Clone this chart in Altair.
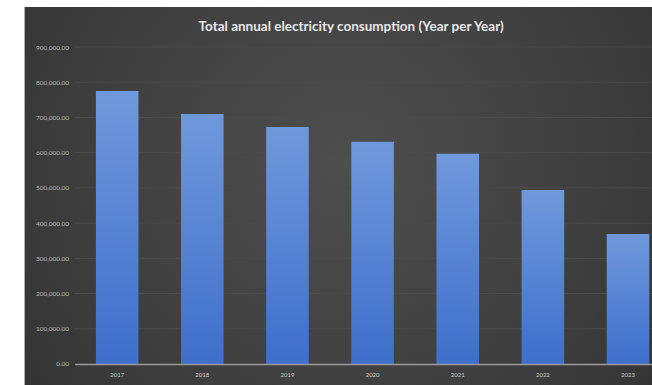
import altair as alt
import pandas as pd

title_text = "Total annual electricity consumption (Year per Year)"
years = ["2017", "2018", "2019", "2020", "2021", "2022", "2023"]
consumption = [775000, 710000, 673000, 631000, 597000, 494000, 369000]
grid_values = [100000, 200000, 300000, 400000, 500000, 600000, 700000, 800000, 900000]

df = pd.DataFrame({"year": years, "value": consumption})
gdf = pd.DataFrame({"v": grid_values})

W, H = 577, 317

y_axis = alt.Axis(values=[0] + grid_values, format=",.2f", grid=False,
                  labelFontSize=6.5, labelColor="#bdbdbd", domain=False,
                  ticks=False, labelPadding=6, zindex=1, labelOverlap=False)
y_scale = alt.Scale(domain=[0, 900000])

bg = alt.Chart(pd.DataFrame({"a": [0]})).mark_rect(
    color=alt.RadialGradient(
        gradient="radial",
        x1=0.5, y1=0.45, r1=0.0,
        x2=0.5, y2=0.45, r2=0.75,
        stops=[
            alt.GradientStop(color="#4e4e4e", offset=0),
            alt.GradientStop(color="#3c3c3c", offset=0.6),
            alt.GradientStop(color="#2c2c2c", offset=1),
        ],
    )
).encode(
    x=alt.value(-50), x2=alt.value(W + 10),
    y=alt.value(-40), y2=alt.value(H + 21),
)

title = alt.Chart(pd.DataFrame({"t": [title_text]})).mark_text(
    color="#e6e6e6", font="Lato", fontSize=13.5, fontWeight="bold",
    align="center", baseline="middle",
).encode(text="t:N", x=alt.value(W / 2 - 12), y=alt.value(-20))

grid = alt.Chart(gdf).mark_rule(color="#4c4c4c", strokeWidth=1).encode(
    y=alt.Y("v:Q", scale=y_scale, axis=y_axis, title=None),
)

bars = alt.Chart(df).mark_bar(
    color=alt.LinearGradient(
        gradient="linear", x1=0, y1=0, x2=0, y2=1,
        stops=[
            alt.GradientStop(color="#7098dc", offset=0),
            alt.GradientStop(color="#3d6fcb", offset=1),
        ],
    )
).encode(
    x=alt.X("year:N", sort=years, title=None,
            scale=alt.Scale(range=[0, 596], paddingInner=0.5, paddingOuter=0.25),
            axis=alt.Axis(labelFontSize=6, labelColor="#cfcfcf", labelAngle=0,
                          domain=True, domainColor="#9a9a9a", domainWidth=1.5,
                          ticks=False, labelPadding=8, zindex=1, labelOverlap=False)),
    y=alt.Y("value:Q", title=None, scale=y_scale, axis=y_axis),
)

chart = alt.layer(bg, grid, bars, title).properties(
    width=W, height=H,
    autosize=alt.AutoSizeParams(type="none"),
    padding={"left": 74.6, "top": 47, "right": 0, "bottom": 21},
    background="white",
).configure_view(stroke=None).configure_axis(labelFont="Lato")

chart.save("out.html", embed_options={"renderer": "svg", "actions": False})
